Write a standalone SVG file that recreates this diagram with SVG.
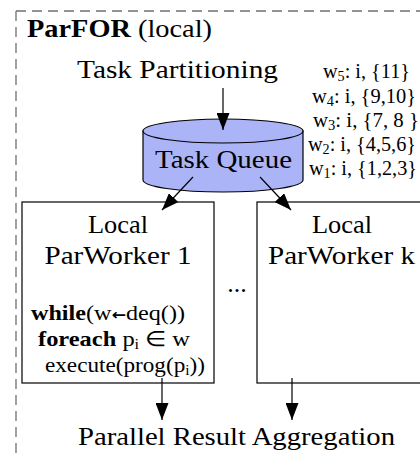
<svg xmlns="http://www.w3.org/2000/svg" width="420" height="456" viewBox="0 0 420 456">
<style>
.t{font-family:"Liberation Serif","Times New Roman",serif;font-size:26px;fill:#000}
.c{font-family:"Liberation Serif","Times New Roman",serif;font-size:21px;fill:#000}
.w{font-family:"Liberation Serif","Times New Roman",serif;font-size:20px;fill:#000}
.b{font-weight:bold}
.ar{font-family:"DejaVu Sans",sans-serif;font-weight:bold}
.box{fill:#fff;stroke:#000;stroke-width:1.2}
.edge{stroke:#000;stroke-width:1.2;fill:none;marker-end:url(#ah)}
</style>
<defs>
<marker id="ah" viewBox="0 0 17 13" refX="17" refY="6.5" markerWidth="17" markerHeight="13" markerUnits="userSpaceOnUse" orient="auto">
<path d="M0,0 L17,6.5 L0,13 z" fill="#000"/>
</marker>
</defs>
<rect x="0" y="0" width="420" height="456" fill="#fff"/>
<g id="frame">
<path d="M16,11 H430 M16,11 V460" fill="none" stroke="#707070" stroke-width="1.3" stroke-dasharray="10,6"/>
<text class="t" x="27" y="37" textLength="185" lengthAdjust="spacingAndGlyphs"><tspan class="b">ParFOR</tspan> (local)</text>
</g>
<g id="partitioning">
<text class="t" x="77" y="78" textLength="201" lengthAdjust="spacingAndGlyphs">Task Partitioning</text>
</g>
<g id="queue">
<path d="M143,131 V180 A80,12 0 0 0 303,180 V131 Z" fill="#acb4f8" stroke="#000" stroke-width="1.2"/>
<ellipse cx="223" cy="131" rx="80" ry="12" fill="#acb4f8" stroke="#000" stroke-width="1.2"/>
<text class="t" x="155" y="168" textLength="137" lengthAdjust="spacingAndGlyphs">Task Queue</text>
</g>
<g id="tasks">
<text class="w" x="323" y="78" textLength="87" lengthAdjust="spacingAndGlyphs">w<tspan font-size="14" dy="3">5</tspan><tspan dy="-3">: i, {11}</tspan></text>
<text class="w" x="312" y="103" textLength="104" lengthAdjust="spacingAndGlyphs">w<tspan font-size="14" dy="3">4</tspan><tspan dy="-3">: i, {9,10}</tspan></text>
<text class="w" x="313" y="127" textLength="106" lengthAdjust="spacingAndGlyphs">w<tspan font-size="14" dy="3">3</tspan><tspan dy="-3">: i, {7, 8 }</tspan></text>
<text class="w" x="308" y="151" textLength="108" lengthAdjust="spacingAndGlyphs">w<tspan font-size="14" dy="3">2</tspan><tspan dy="-3">: i, {4,5,6}</tspan></text>
<text class="w" x="309" y="175" textLength="108" lengthAdjust="spacingAndGlyphs">w<tspan font-size="14" dy="3">1</tspan><tspan dy="-3">: i, {1,2,3}</tspan></text>
</g>
<g id="worker1">
<rect class="box" x="22" y="202" width="192" height="181"/>
<text class="t" x="118" y="233" text-anchor="middle" textLength="60" lengthAdjust="spacingAndGlyphs">Local</text>
<text class="t" x="118" y="264" text-anchor="middle" textLength="147" lengthAdjust="spacingAndGlyphs">ParWorker 1</text>
<text class="c" x="31" y="320" textLength="154" lengthAdjust="spacingAndGlyphs"><tspan class="b">while</tspan>(w<tspan class="ar" font-size="15">←</tspan>deq())</text>
<text class="c" x="38" y="346" textLength="152" lengthAdjust="spacingAndGlyphs"><tspan class="b">foreach</tspan> p<tspan font-size="14" dy="3">i</tspan><tspan dy="-3"> ∈ w</tspan></text>
<text class="c" x="45" y="372" textLength="160" lengthAdjust="spacingAndGlyphs">execute(prog(p<tspan font-size="14" dy="3">i</tspan><tspan dy="-3">))</tspan></text>
</g>
<g id="dots">
<text class="t" x="237" y="292" text-anchor="middle">...</text>
</g>
<g id="workerk">
<rect class="box" x="257" y="202" width="175" height="181"/>
<text class="t" x="342" y="233" text-anchor="middle" textLength="60" lengthAdjust="spacingAndGlyphs">Local</text>
<text class="t" x="341.5" y="264" text-anchor="middle" textLength="147" lengthAdjust="spacingAndGlyphs">ParWorker k</text>
</g>
<g id="aggregation">
<text class="t" x="236.5" y="445" text-anchor="middle" textLength="317" lengthAdjust="spacingAndGlyphs">Parallel Result Aggregation</text>
</g>
<g id="connectors">
<line class="edge" x1="223" y1="88" x2="223" y2="130"/>
<line class="edge" x1="193" y1="177" x2="162" y2="210"/>
<line class="edge" x1="260" y1="177" x2="291" y2="210"/>
<line class="edge" x1="162" y1="378" x2="162" y2="420"/>
<line class="edge" x1="292" y1="378" x2="292" y2="420"/>
</g>
</svg>
